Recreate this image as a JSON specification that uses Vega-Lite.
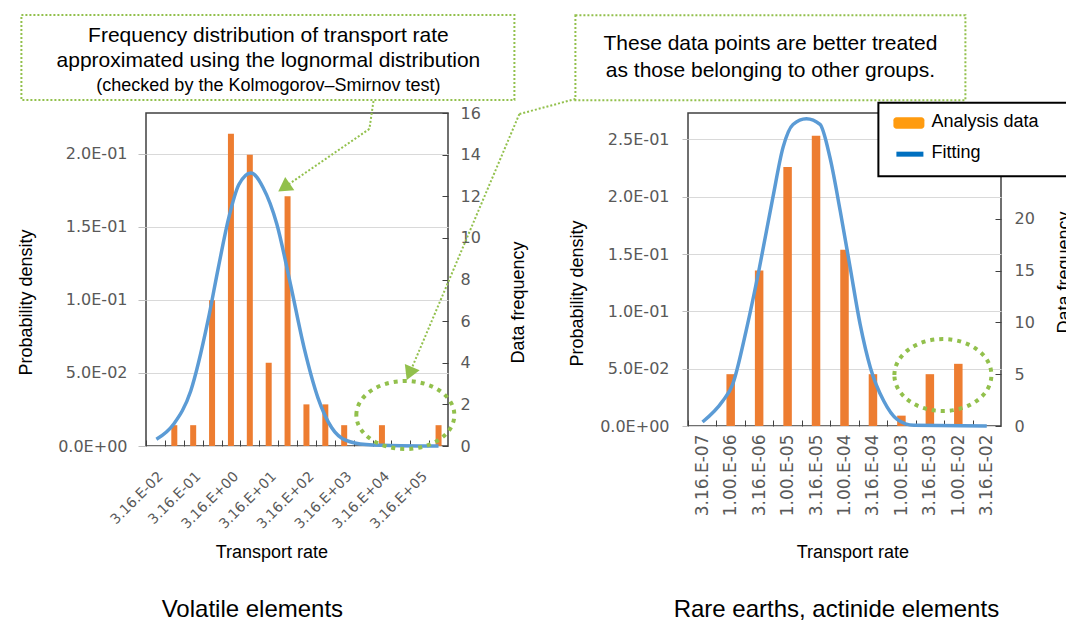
{
  "$schema": "https://vega.github.io/schema/vega-lite/v6.json",
  "background": "white",
  "padding": {"left": 16, "top": 13, "right": 0, "bottom": 0},
  "bounds": "flush",
  "spacing": 240,
  "config": {
    "view": {"stroke": "#404040", "strokeWidth": 1.5},
    "axis": {"labelFont": "DejaVu Sans", "labelColor": "#595959", "titleFont": "Liberation Sans", "titleColor": "#000000", "titleFontWeight": "normal", "domain": false, "grid": false}
  },
  "datasets": {
    "volatile_bars": [
      {"idx": 0, "rate": "3.16E-02", "count": 0},
      {"idx": 1, "rate": "1.00E-01", "count": 1},
      {"idx": 2, "rate": "3.16E-01", "count": 1},
      {"idx": 3, "rate": "1.00E+00", "count": 7},
      {"idx": 4, "rate": "3.16E+00", "count": 15},
      {"idx": 5, "rate": "1.00E+01", "count": 14},
      {"idx": 6, "rate": "3.16E+01", "count": 4},
      {"idx": 7, "rate": "1.00E+02", "count": 12},
      {"idx": 8, "rate": "3.16E+02", "count": 2},
      {"idx": 9, "rate": "1.00E+03", "count": 2},
      {"idx": 10, "rate": "3.16E+03", "count": 1},
      {"idx": 11, "rate": "1.00E+04", "count": 0},
      {"idx": 12, "rate": "3.16E+04", "count": 1},
      {"idx": 13, "rate": "1.00E+05", "count": 0},
      {"idx": 14, "rate": "3.16E+05", "count": 0},
      {"idx": 15, "rate": "1.00E+06", "count": 1}
    ],
    "volatile_curve": [
      {"idx": 0.05, "density": 0.0046},
      {"idx": 0.96, "density": 0.0149},
      {"idx": 1.87, "density": 0.0377},
      {"idx": 2.78, "density": 0.0856},
      {"idx": 3.33, "density": 0.122},
      {"idx": 3.88, "density": 0.156},
      {"idx": 4.42, "density": 0.179},
      {"idx": 5.06, "density": 0.187},
      {"idx": 5.70, "density": 0.177},
      {"idx": 6.43, "density": 0.152},
      {"idx": 7.15, "density": 0.111},
      {"idx": 7.88, "density": 0.067},
      {"idx": 8.61, "density": 0.033},
      {"idx": 9.34, "density": 0.0125},
      {"idx": 10.07, "density": 0.004},
      {"idx": 11.16, "density": 0.001},
      {"idx": 13.0, "density": 0.0002},
      {"idx": 15.0, "density": 0.0}
    ],
    "rare_bars": [
      {"idx": 0, "rate": "3.16E-07", "count": 0},
      {"idx": 1, "rate": "1.00E-06", "count": 5},
      {"idx": 2, "rate": "3.16E-06", "count": 15},
      {"idx": 3, "rate": "1.00E-05", "count": 25},
      {"idx": 4, "rate": "3.16E-05", "count": 28},
      {"idx": 5, "rate": "1.00E-04", "count": 17},
      {"idx": 6, "rate": "3.16E-04", "count": 5},
      {"idx": 7, "rate": "1.00E-03", "count": 1},
      {"idx": 8, "rate": "3.16E-03", "count": 5},
      {"idx": 9, "rate": "1.00E-02", "count": 6},
      {"idx": 10, "rate": "3.16E-02", "count": 0}
    ],
    "rare_curve": [
      {"idx": 0.01, "density": 0.0035},
      {"idx": 0.72, "density": 0.0218},
      {"idx": 1.07, "density": 0.0364},
      {"idx": 1.54, "density": 0.0828},
      {"idx": 2.01, "density": 0.138},
      {"idx": 2.48, "density": 0.199},
      {"idx": 2.84, "density": 0.243},
      {"idx": 3.19, "density": 0.263},
      {"idx": 3.66, "density": 0.268},
      {"idx": 4.14, "density": 0.263},
      {"idx": 4.49, "density": 0.234},
      {"idx": 4.85, "density": 0.1875},
      {"idx": 5.20, "density": 0.138},
      {"idx": 5.55, "density": 0.0887},
      {"idx": 5.91, "density": 0.0509},
      {"idx": 6.38, "density": 0.0218},
      {"idx": 6.85, "density": 0.0058},
      {"idx": 7.44, "density": 0.0006},
      {"idx": 10.0, "density": 0.0}
    ]
  },
  "hconcat": [
    {
      "width": 302,
      "height": 333,
      "layer": [
        {
          "data": {"name": "volatile_bars"},
          "mark": {"type": "bar", "size": 6, "color": "#ED7D31"},
          "encoding": {
            "x": {"field": "idx", "type": "quantitative",
              "scale": {"domain": [-0.5, 15.5], "nice": false, "zero": false, "padding": 0},
              "axis": {"values": [0,1,2,3,4,5,6,7,8,9,10,11,12,13,14,15], "tickOffset": -9.4375, "labelOffset": 9.4375,
                "tickSize": -6, "tickColor": "#404040", "labelAngle": -45, "labelAlign": "right", "labelBaseline": "top",
                "labelPadding": 29, "labelFontSize": 14, "labelFlush": false, "labelOverlap": false,
                "labelExpr": "datum.value % 2 == 0 ? ['3.16.E-02','3.16.E-01','3.16.E+00','3.16.E+01','3.16.E+02','3.16.E+03','3.16.E+04','3.16.E+05'][datum.value / 2] : ''",
                "title": "Transport rate", "titleFontSize": 18, "titleX": 125.4, "titleY": 106, "titleAlign": "center", "titleBaseline": "middle"}},
            "y": {"field": "count", "type": "quantitative",
              "scale": {"domain": [0, 16], "nice": false},
              "axis": {"orient": "right", "values": [0,2,4,6,8,10,12,14,16], "tickSize": -6, "tickColor": "#404040",
                "labelFontSize": 16, "labelPadding": 18, "title": "Data frequency", "titleFontSize": 18, "titleAngle": 270,
                "titleX": 70.9, "titleY": 189, "titleAlign": "center", "titleBaseline": "middle"}}
          }
        },
        {
          "layer": [
            {
              "data": {"name": "volatile_curve"},
              "mark": {"type": "line", "color": "#5B9BD5", "strokeWidth": 3.5, "interpolate": "monotone"},
              "encoding": {
                "x": {"field": "idx", "type": "quantitative", "axis": null},
                "y": {"field": "density", "type": "quantitative",
                  "scale": {"domain": [0, 0.228], "nice": false},
                  "axis": {"orient": "left", "values": [0, 0.05, 0.1, 0.15, 0.2], "grid": true, "gridColor": "#d9d9d9",
                    "tickSize": 8, "tickColor": "#bfbfbf", "labelFontSize": 16, "labelPadding": 11,
                    "labelExpr": "datum.value == 0 ? '0.0E+00' : datum.value < 0.099 ? format(datum.value * 100, '.1f') + 'E-02' : format(datum.value * 10, '.1f') + 'E-01'",
                    "title": "Probability density", "titleFontSize": 18, "titleAngle": 270, "titleX": -119.6, "titleY": 189,
                    "titleAlign": "center", "titleBaseline": "middle"}}
              }
            },
            {
              "data": {"values": [{}]},
              "layer": [
                {"mark": {"type": "rect", "fill": "transparent", "stroke": "#92C04C", "strokeWidth": 2, "strokeDash": [2, 2]},
                 "encoding": {"x": {"datum": -7.101, "axis": null}, "x2": {"datum": 19.018}, "y": {"datum": 0.2951, "axis": null}, "y2": {"datum": 0.2369}}},
                {"mark": {"type": "text", "font": "Liberation Sans", "fontSize": 21, "color": "#000000", "align": "center", "baseline": "middle"},
                 "encoding": {"x": {"datum": 5.985, "axis": null}, "y": {"datum": 0.2807, "axis": null}, "text": {"value": "Frequency distribution of transport rate"}}},
                {"mark": {"type": "text", "font": "Liberation Sans", "fontSize": 21, "color": "#000000", "align": "center", "baseline": "middle"},
                 "encoding": {"x": {"datum": 5.985, "axis": null}, "y": {"datum": 0.2636, "axis": null}, "text": {"value": "approximated using the lognormal distribution"}}},
                {"mark": {"type": "text", "font": "Liberation Sans", "fontSize": 18, "color": "#000000", "align": "center", "baseline": "middle"},
                 "encoding": {"x": {"datum": 5.985, "axis": null}, "y": {"datum": 0.2465, "axis": null}, "text": {"value": "(checked by the Kolmogorov–Smirnov test)"}}},
                {"mark": {"type": "rule", "color": "#92C04C", "strokeWidth": 2, "strokeDash": [2, 2]},
                 "encoding": {"x": {"datum": 11.553, "axis": null}, "y": {"datum": 0.2362, "axis": null}, "x2": {"datum": 11.336}, "y2": {"datum": 0.2171}}},
                {"mark": {"type": "rule", "color": "#92C04C", "strokeWidth": 2, "strokeDash": [2, 2]},
                 "encoding": {"x": {"datum": 11.336, "axis": null}, "y": {"datum": 0.2171, "axis": null}, "x2": {"datum": 6.811}, "y2": {"datum": 0.1770}}},
                {"mark": {"type": "point", "shape": "triangle-up", "filled": true, "color": "#92C04C", "opacity": 1, "size": 260, "angle": 235.6},
                 "encoding": {"x": {"datum": 6.811, "axis": null}, "y": {"datum": 0.1770, "axis": null}}},
                {"mark": {"type": "rule", "color": "#92C04C", "strokeWidth": 2, "strokeDash": [2, 2]},
                 "encoding": {"x": {"datum": 22.25, "axis": null}, "y": {"datum": 0.2376, "axis": null}, "x2": {"datum": 19.28}, "y2": {"datum": 0.2273}}},
                {"mark": {"type": "rule", "color": "#92C04C", "strokeWidth": 2, "strokeDash": [2, 2]},
                 "encoding": {"x": {"datum": 19.28, "axis": null}, "y": {"datum": 0.2273, "axis": null}, "x2": {"datum": 13.46}, "y2": {"datum": 0.0496}}},
                {"mark": {"type": "point", "shape": "triangle-up", "filled": true, "color": "#92C04C", "opacity": 1, "size": 260, "angle": 203},
                 "encoding": {"x": {"datum": 13.46, "axis": null}, "y": {"datum": 0.0496, "axis": null}}},
                {"mark": {"type": "point", "shape": "M -1 0 A 1 0.694 0 1 1 1 0 A 1 0.694 0 1 1 -1 0 Z", "filled": false, "color": "#92C04C", "opacity": 1, "strokeWidth": 4, "strokeDash": [4, 5], "size": 9604},
                 "encoding": {"x": {"datum": 13.24, "axis": null}, "y": {"datum": 0.02123, "axis": null}}},
                {"mark": {"type": "text", "font": "Liberation Sans", "fontSize": 24, "color": "#000000", "align": "center", "baseline": "middle"},
                 "encoding": {"x": {"datum": 5.137, "axis": null}, "y": {"datum": -0.1123, "axis": null}, "text": {"value": "Volatile elements"}}}
              ]
            }
          ],
          "resolve": {"axis": {"x": "independent", "y": "independent"}}
        }
      ],
      "resolve": {"scale": {"y": "independent"}, "axis": {"x": "independent"}}
    },
    {
      "width": 313,
      "height": 313,
      "layer": [
        {
          "data": {"name": "rare_bars"},
          "mark": {"type": "bar", "size": 8.5, "color": "#ED7D31"},
          "encoding": {
            "x": {"field": "idx", "type": "quantitative",
              "scale": {"domain": [-0.5, 10.5], "nice": false, "zero": false, "padding": 0},
              "axis": {"values": [0,1,2,3,4,5,6,7,8,9,10], "tickOffset": -14.227, "labelOffset": 14.227,
                "tickSize": -6, "tickColor": "#404040", "labelAngle": -90, "labelAlign": "right", "labelBaseline": "middle",
                "labelPadding": 14, "labelFontSize": 17, "labelFlush": false, "labelOverlap": false,
                "labelExpr": "['3.16.E-07','1.00.E-06','3.16.E-06','1.00.E-05','3.16.E-05','1.00.E-04','3.16.E-04','1.00.E-03','3.16.E-03','1.00.E-02','3.16.E-02'][datum.value]",
                "title": "Transport rate", "titleFontSize": 18, "titleX": 164.4, "titleY": 126, "titleAlign": "center", "titleBaseline": "middle"}},
            "y": {"field": "count", "type": "quantitative",
              "scale": {"domain": [0, 30.2], "nice": false},
              "axis": {"orient": "right", "values": [0,5,10,15,20], "tickSize": -6, "tickColor": "#404040",
                "labelFontSize": 16, "labelPadding": 19, "title": "Data frequency", "titleFontSize": 18, "titleAngle": 270,
                "titleX": 63.4, "titleY": 159, "titleAlign": "center", "titleBaseline": "middle"}}
          }
        },
        {
          "layer": [
            {
              "data": {"name": "rare_curve"},
              "mark": {"type": "line", "color": "#5B9BD5", "strokeWidth": 3.5, "interpolate": "monotone"},
              "encoding": {
                "x": {"field": "idx", "type": "quantitative", "axis": null},
                "y": {"field": "density", "type": "quantitative",
                  "scale": {"domain": [0, 0.273], "nice": false},
                  "axis": {"orient": "left", "values": [0, 0.05, 0.1, 0.15, 0.2, 0.25], "grid": true, "gridColor": "#d9d9d9",
                    "tickSize": 6, "tickColor": "#bfbfbf", "labelFontSize": 16, "labelPadding": 13,
                    "labelExpr": "datum.value == 0 ? '0.0E+00' : datum.value < 0.099 ? format(datum.value * 100, '.1f') + 'E-02' : format(datum.value * 10, '.1f') + 'E-01'",
                    "title": "Probability density", "titleFontSize": 18, "titleAngle": 270, "titleX": -110.6, "titleY": 180,
                    "titleAlign": "center", "titleBaseline": "middle"}}
              }
            },
            {
              "data": {"values": [{}]},
              "layer": [
                {"mark": {"type": "rect", "fill": "transparent", "stroke": "#92C04C", "strokeWidth": 2, "strokeDash": [2, 2]},
                 "encoding": {"x": {"datum": -4.457, "axis": null}, "x2": {"datum": 9.249}, "y": {"datum": 0.3583, "axis": null}, "y2": {"datum": 0.2842}}},
                {"mark": {"type": "text", "font": "Liberation Sans", "fontSize": 21, "color": "#000000", "align": "center", "baseline": "middle"},
                 "encoding": {"x": {"datum": 2.396, "axis": null}, "y": {"datum": 0.3330, "axis": null}, "text": {"value": "These data points are better treated"}}},
                {"mark": {"type": "text", "font": "Liberation Sans", "fontSize": 21, "color": "#000000", "align": "center", "baseline": "middle"},
                 "encoding": {"x": {"datum": 2.396, "axis": null}, "y": {"datum": 0.3095, "axis": null}, "text": {"value": "as those belonging to other groups."}}},
                {"mark": {"type": "point", "shape": "M -1 0 A 1 0.742 0 1 1 1 0 A 1 0.742 0 1 1 -1 0 Z", "filled": false, "color": "#92C04C", "opacity": 1, "strokeWidth": 4, "strokeDash": [4, 5], "size": 9409},
                 "encoding": {"x": {"datum": 8.458, "axis": null}, "y": {"datum": 0.04446, "axis": null}}},
                {"mark": {"type": "rect", "fill": "#ffffff", "stroke": "#000000", "strokeWidth": 2},
                 "encoding": {"x": {"datum": 6.191, "axis": null}, "x2": {"datum": 13.22}, "y": {"datum": 0.2819, "axis": null}, "y2": {"datum": 0.2179}}},
                {"mark": {"type": "rect", "fill": "#FF9B0F", "cornerRadius": 3},
                 "encoding": {"x": {"datum": 6.719, "axis": null}, "x2": {"datum": 7.808}, "y": {"datum": 0.2694, "axis": null}, "y2": {"datum": 0.2592}}},
                {"mark": {"type": "rule", "color": "#0070C0", "strokeWidth": 5},
                 "encoding": {"x": {"datum": 6.824, "axis": null}, "x2": {"datum": 7.773}, "y": {"datum": 0.2371, "axis": null}}},
                {"mark": {"type": "text", "font": "Liberation Sans", "fontSize": 18, "color": "#000000", "align": "left", "baseline": "middle"},
                 "encoding": {"x": {"datum": 8.055, "axis": null}, "y": {"datum": 0.2650, "axis": null}, "text": {"value": "Analysis data"}}},
                {"mark": {"type": "text", "font": "Liberation Sans", "fontSize": 18, "color": "#000000", "align": "left", "baseline": "middle"},
                 "encoding": {"x": {"datum": 8.055, "axis": null}, "y": {"datum": 0.2380, "axis": null}, "text": {"value": "Fitting"}}},
                {"mark": {"type": "text", "font": "Liberation Sans", "fontSize": 24, "color": "#000000", "align": "center", "baseline": "middle"},
                 "encoding": {"x": {"datum": 4.715, "axis": null}, "y": {"datum": -0.1604, "axis": null}, "text": {"value": "Rare earths, actinide elements"}}}
              ]
            }
          ],
          "resolve": {"axis": {"x": "independent", "y": "independent"}}
        }
      ],
      "resolve": {"scale": {"y": "independent"}, "axis": {"x": "independent"}}
    }
  ]
}
